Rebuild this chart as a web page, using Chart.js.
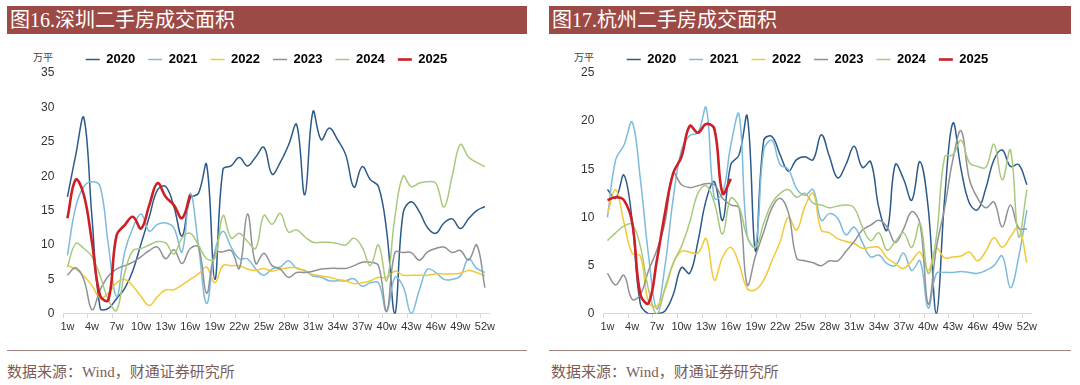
<!DOCTYPE html>
<html>
<head>
<meta charset="utf-8">
<script src="https://cdn.jsdelivr.net/npm/chart.js@4.4.1/dist/chart.umd.min.js"></script>
<style>
  body { margin: 0; width: 1080px; height: 385px; background: #fff; position: relative; overflow: hidden; }
  .head { position: absolute; top: 6px; height: 28px; background: #9c4a46; color: #fff;
          font: 20px "Liberation Serif", "Noto Sans CJK SC", serif; line-height: 28px; padding-left: 3px; box-sizing: border-box; }
  .unit { position: absolute; top: 49px; font: 10px "Noto Sans CJK SC", sans-serif; color: #444; }
  .rule { position: absolute; top: 350px; height: 1px; background: #a08580; }
  .src  { position: absolute; top: 360px; font: 15px "Liberation Serif", "Noto Sans CJK SC", serif; color: #7d5c57; }
  .box  { position: absolute; top: 37px; }
</style>
</head>
<body>
<div class="head" style="left:7px;width:520px">图16.深圳二手房成交面积</div>
<div class="head" style="left:549px;width:522px">图17.杭州二手房成交面积</div>
<div class="unit" style="left:33px">万平</div>
<div class="unit" style="left:574px">万平</div>
<div class="box" style="left:0px"><canvas id="chartSZ" width="540" height="300"></canvas></div>
<div class="box" style="left:540px"><canvas id="chartHZ" width="540" height="300"></canvas></div>
<div class="rule" style="left:7px;width:520px"></div>
<div class="rule" style="left:549px;width:522px"></div>
<div class="src" style="left:7px">数据来源：Wind，财通证券研究所</div>
<div class="src" style="left:551px">数据来源：Wind，财通证券研究所</div>

<script>
const weeks = [];
for (let i = 1; i <= 52; i++) weeks.push(i + "w");

const years = ["2020", "2021", "2022", "2023", "2024", "2025"];
const colors = ["#2b5a88", "#7dbbdc", "#f2c935", "#8e9196", "#a8c97c", "#cc1f26"];

// 深圳
const sz2020 = [17, 23, 28.5, 14, 0.8, 0.8, 2.2, 3.7, 6.3, 10.2, 14.1, 18, 18.5, 15.6, 11.3, 16.8, 17.5, 21.7, 5, 21,
  21.5, 22.7, 21.5, 22.8, 24.2, 20.3, 22, 24.5, 27.5, 17.3, 29.4, 25.3, 27, 25.3, 23.1, 18.4, 21.4, 19.5, 18.5, 12,
  0, 14.6, 16.3, 14.8, 12.5, 11.7, 13.2, 13.8, 12.4, 13.8, 15, 15.6];
const sz2021 = [8.5, 15.5, 18.5, 19.2, 18.5, 10, 2.5, 9, 12.5, 14.5, 12, 13, 13.2, 12.5, 9, 17.5, 10, 1.5, 9, 12,
  9.7, 8, 8, 6.5, 5.6, 6.5, 6.8, 7.7, 6.6, 6.3, 5.5, 5.3, 4.8, 4.8, 4.8, 5.1, 4, 4.5, 4.5, 0.3,
  5.3, 4, 0, 3.5, 6.5, 6, 5, 5, 5.5, 8, 6.6, 6];
const sz2022 = [7, 6.5, 5.5, 4.1, 2.3, 3, 4.5, 5, 4, 2.5, 1.2, 2.5, 3.5, 3.5, 4.2, 5, 5.8, 6.8, 4.5, 7,
  7, 7, 6.5, 6.3, 6.6, 6.2, 6.5, 6.7, 6.7, 6.2, 5.7, 5.5, 5.3, 5, 4.8, 4.4, 4.5, 4.8, 5.3, 5.3,
  6.2, 5.6, 5.6, 5.6, 5.6, 5.8, 5.8, 5.8, 5.9, 6.3, 6, 5.5];
const sz2023 = [5.6, 6.7, 5, 0.6, 3.5, 5.5, 6.5, 7, 7.5, 8.3, 9.2, 9.7, 8, 9.3, 7.3, 9.5, 9.7, 3, 8.8, 9,
  9.2, 6.6, 14.5, 7.3, 8.8, 7, 6.5, 5.3, 6, 6, 6.2, 6.5, 6.6, 6.6, 6.6, 7, 7.5, 7.5, 7, 0.4,
  8.9, 8.9, 8.9, 7.8, 9, 9.5, 9.7, 8.9, 9.2, 7.8, 10, 3.8];
const sz2024 = [6.8, 10.2, 9.5, 8.3, 5.5, 2, 0.5, 6, 9.2, 9.5, 10, 10.5, 10.3, 8.7, 11, 11.7, 10, 8, 8, 14.3,
  11, 11.7, 10.5, 9.5, 14.3, 13, 14.6, 11.9, 12.2, 11.2, 10.4, 10.4, 10.4, 10.2, 10, 11, 9.7, 7, 10, 4.8,
  14, 20, 18.5, 19, 19.2, 19, 15.5, 20, 24.6, 22.8, 22, 21.4];
const sz2025 = [13.9, 19.5, 17.3, 10.4, 2.6, 2, 11.4, 12.9, 14.1, 12.4, 15.8, 19, 17, 15.8, 13.9, 17.3];

// 杭州
const hz2020 = [12.9, 12, 14.4, 9.7, 1, 0, 0, 0.3, 2, 4.8, 4.2, 7.5, 11.8, 13.7, 9.7, 15.5, 16.5, 20.5, 6.5, 18,
  18.4, 16.5, 14.8, 16, 16.3, 16, 18.6, 16.3, 14.1, 15.5, 17.4, 15.2, 15.8, 11, 8.7, 15.5, 14, 11.8, 15.8, 11,
  0, 12, 19.8, 15, 11.5, 10.8, 13, 16, 17, 15.3, 15.5, 13.4];
const hz2021 = [10, 16, 17.5, 19.9, 14, 6, 0.5, 5, 12, 17, 18.5, 18.8, 21.4, 12, 12.5, 17.5, 20.7, 8, 7, 17,
  18, 15.5, 15, 13, 12.3, 12.9, 9.7, 10.4, 9.9, 8.2, 9, 7.4, 5.9, 6.1, 5.2, 5, 6.3, 4.5, 5.5, 0.6,
  4.2, 4.3, 4.3, 4.4, 4.3, 4.2, 4.5, 5, 6, 2.7, 5.9, 10.8];
const hz2022 = [10.4, 12.9, 9.5, 6.3, 6, 1.2, 0.8, 2.5, 5.2, 6.5, 6.4, 6.3, 7.8, 3.5, 5.9, 6.9, 5.2, 2.6, 2.5, 3.5,
  5.5, 7.5, 10, 8.7, 11.1, 12.5, 8.7, 8.4, 7.8, 7.5, 7.3, 6.8, 6.9, 6.9, 5.8, 5.2, 4.7, 5.5, 6.4, 4.5,
  6.8, 5.8, 5.9, 6, 6.4, 5.5, 6.5, 7.9, 6.9, 8, 9, 5.3];
const hz2023 = [4.2, 3, 4, 1.5, 2, 4.5, 6.6, 9.5, 14.6, 13.4, 13.1, 13.3, 13.5, 13.4, 12, 11.3, 11, 3, 6, 8.5,
  11, 12, 10.5, 5.8, 5.5, 5.3, 5, 5.5, 5.5, 6.5, 7.5, 8.7, 9.2, 9.7, 9, 7.4, 8.8, 10.6, 9.4, 1,
  6.9, 11, 16, 19, 14, 12, 11, 11.6, 9, 11.3, 8.9, 8.8];
const hz2024 = [7.6, 8.4, 9.1, 9.3, 7, 2.5, 0, 2.7, 5.3, 7, 9.5, 12.5, 13.3, 11.5, 8.3, 12, 11.1, 8, 6.9, 9.4,
  11.5, 12.5, 12.9, 12.1, 12.5, 11.5, 11.3, 11, 11.2, 11.3, 11, 9, 7.6, 8.4, 6.6, 7.5, 8.4, 6.9, 9.4, 4.2,
  8, 16.3, 16.5, 18, 15.7, 15.3, 15.2, 17.6, 13.9, 17, 8, 12.9];
const hz2025 = [11.8, 12.1, 11.8, 9.5, 2, 1.1, 5.5, 10.5, 14.6, 16.3, 19.5, 18.8, 19.7, 19.2, 12.5, 14];

const szSeries = [sz2020, sz2021, sz2022, sz2023, sz2024, sz2025];
const hzSeries = [hz2020, hz2021, hz2022, hz2023, hz2024, hz2025];

// shift the legend a little after layout, so it sits where the original has it
const legendNudge = {
  id: "legendNudge",
  afterLayout(chart, args, opts) {
    const lg = chart.legend;
    if (!lg) return;
    lg.left += opts.dx || 0;
    lg.right += opts.dx || 0;
    lg.top += opts.dy || 0;
    lg.bottom += opts.dy || 0;
  },
};

function buildChart(id, series, yMax, pad, nudge) {
  const datasets = series.map((values, i) => ({
    label: years[i],
    data: values,
    borderColor: colors[i],
    backgroundColor: colors[i],
    borderWidth: i === 5 ? 2.6 : 1.5,
    pointRadius: 0,
    tension: 0.4,
    order: 5 - i,
  }));

  return new Chart(document.getElementById(id), {
    type: "line",
    data: { labels: weeks, datasets: datasets },
    plugins: [legendNudge],
    options: {
      responsive: false,
      animation: false,
      layout: { padding: pad },
      plugins: {
        tooltip: { enabled: false },
        legendNudge: nudge,
        legend: {
          position: "top",
          labels: {
            usePointStyle: true,
            pointStyle: "line",
            pointStyleWidth: 14,
            padding: 13,
            color: "#000",
            font: { family: "Liberation Sans, Arial", size: 13, weight: "bold" },
            sort: (a, b) => a.datasetIndex - b.datasetIndex,
          },
        },
      },
      scales: {
        x: {
          offset: true,
          grid: {
            offset: true,
            drawOnChartArea: false,
            tickLength: 4,
            color: (ctx) => (ctx.index !== undefined && ctx.index % 3 === 0 ? "#d9d9d9" : "rgba(0,0,0,0)"),
          },
          border: { display: true, color: "#d9d9d9" },
          ticks: {
            autoSkip: false,
            maxRotation: 0,
            padding: 3,
            color: "#333",
            font: { family: "Liberation Sans, Arial", size: 11 },
            callback: (v, i) => (i % 3 === 0 ? weeks[i] : ""),
          },
        },
        y: {
          min: 0,
          max: yMax,
          grid: { display: false, drawTicks: false },
          border: { display: false },
          ticks: {
            stepSize: 5,
            padding: 9,
            color: "#333",
            font: { family: "Liberation Sans, Arial", size: 12 },
          },
        },
      },
    },
  });
}

document.addEventListener("DOMContentLoaded", () => {
  buildChart("chartSZ", szSeries, 35, { left: 32, right: 51, top: 0, bottom: 0 }, { dx: 6, dy: 3 });
  buildChart("chartHZ", hzSeries, 25, { left: 32, right: 49, top: 0, bottom: 0 }, { dx: 6, dy: 3 });
});
</script>
</body>
</html>
